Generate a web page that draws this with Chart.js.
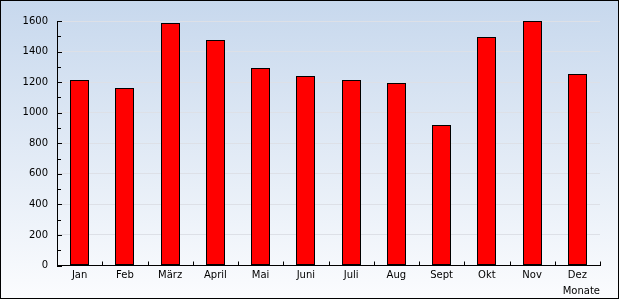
<!DOCTYPE html>
<html>
<head>
<meta charset="utf-8">
<script src="https://cdn.jsdelivr.net/npm/chart.js@4/dist/chart.umd.min.js"></script>
<style>
  html, body { margin: 0; padding: 0; background: #ffffff; }
  canvas { display: block; }
</style>
</head>
<body>
<canvas id="c" width="620" height="300"></canvas>
<script>
const categories = ['Jan', 'Feb', 'März', 'April', 'Mai', 'Juni', 'Juli', 'Aug', 'Sept', 'Okt', 'Nov', 'Dez'];
const values = [1215, 1160, 1585, 1475, 1295, 1240, 1215, 1195, 920, 1495, 1600, 1255];
const yMin = 0;
const yMax = 1600;
const yMajorStep = 200;
const yMinorStep = 100;
const xTitle = 'Monate';

const FONT = 'DejaVu Sans, Verdana, sans-serif';

const framePlugin = {
  id: 'frame',
  beforeDraw(chart) {
    const ctx = chart.ctx;
    ctx.save();
    ctx.fillStyle = '#ffffff';
    ctx.fillRect(0, 0, chart.width, chart.height);
    const g = ctx.createLinearGradient(0, 0, 0, 298);
    g.addColorStop(0, '#c7d8ed');
    g.addColorStop(1, '#fbfcfe');
    ctx.fillStyle = g;
    ctx.fillRect(0, 0, 619, 299);
    ctx.strokeStyle = '#000000';
    ctx.lineWidth = 1;
    ctx.strokeRect(0.5, 0.5, 618, 298);
    ctx.restore();
  },
  beforeDatasetsDraw(chart) {
    // snap bars to whole pixels so the black outlines stay crisp
    chart.getDatasetMeta(0).data.forEach(el => {
      const w = Math.round(el.width);
      const l = Math.round(el.x - el.width / 2);
      el.width = w;
      el.x = l + w / 2;
      el.y = Math.round(el.y);
      el.base = Math.round(el.base);
    });
  },
  afterDatasetsDraw(chart) {
    const ctx = chart.ctx;
    const xs = chart.scales.x, ys = chart.scales.y;
    const area = chart.chartArea;
    ctx.save();
    ctx.strokeStyle = '#000000';
    ctx.lineWidth = 1;
    ctx.beginPath();
    ys.ticks.forEach(t => {
      const y = Math.round(ys.getPixelForValue(t.value)) + 0.5;
      const len = (t.value % yMajorStep === 0) ? 5 : 4;
      ctx.moveTo(area.left, y);
      ctx.lineTo(area.left + len, y);
    });
    const n = categories.length;
    for (let k = 1; k <= n; k++) {
      const x = Math.round(xs.getPixelForValue(k - 0.5)) + 0.5;
      ctx.moveTo(x, area.bottom);
      ctx.lineTo(x, area.bottom - 4);
    }
    ctx.stroke();
    ctx.restore();
  }
};

new Chart(document.getElementById('c'), {
  type: 'bar',
  data: {
    labels: categories,
    datasets: [{
      data: values,
      backgroundColor: '#ff0000',
      borderColor: '#000000',
      borderWidth: 1,
      borderSkipped: false,
      categoryPercentage: 1,
      barPercentage: 0.42
    }]
  },
  plugins: [framePlugin],
  options: {
    responsive: false,
    animation: false,
    events: [],
    layout: { padding: { left: 0, right: 20, top: 21, bottom: 0 } },
    plugins: { legend: { display: false }, tooltip: { enabled: false } },
    scales: {
      x: {
        offset: true,
        grid: { display: false, drawTicks: false },
        border: { display: true, color: '#000000', width: 1 },
        ticks: { color: '#000000', font: { family: FONT, size: 10 }, padding: 4, maxRotation: 0, autoSkip: false },
        title: { display: true, text: xTitle, align: 'end', color: '#000000', font: { family: FONT, size: 10 }, padding: { top: 0, bottom: 3 } },
        afterFit(scale) { scale.height = 34.5; }
      },
      y: {
        min: yMin,
        max: yMax,
        grid: {
          drawTicks: false,
          color: ctx => (ctx.tick && ctx.tick.value % yMajorStep === 0 && ctx.tick.value !== 0) ? '#dde0e7' : 'rgba(0,0,0,0)',
          lineWidth: 1
        },
        border: { display: true, color: '#000000', width: 1 },
        ticks: {
          stepSize: yMinorStep,
          color: '#000000',
          font: { family: FONT, size: 10 },
          padding: 9,
          callback: v => (v % yMajorStep === 0 ? String(v) : '')
        },
        afterFit(scale) { scale.width = 57; }
      }
    }
  }
});
</script>
</body>
</html>
